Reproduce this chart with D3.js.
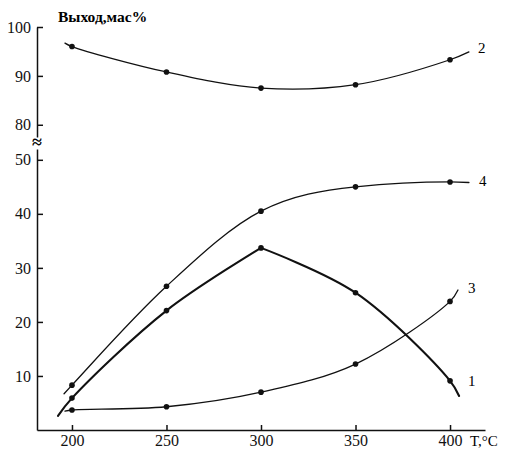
<!DOCTYPE html>
<html>
<head>
<meta charset="utf-8">
<script src="https://cdn.jsdelivr.net/npm/d3@7"></script>
<style>
  html, body { margin: 0; padding: 0; background: #fff; }
  svg { display: block; font-family: "Liberation Serif", "DejaVu Serif", serif; }
  .axis path, .axis line { stroke: #111; stroke-width: 1.5; }
  .axis text { font-size: 16px; fill: #111; font-family: "Liberation Serif", serif; }
</style>
</head>
<body>
<svg id="chart" width="509" height="449"></svg>
<script>
// Temperatures of the measured points, °C
const temps = [200, 250, 300, 350, 400];

// Yields, mass %, for curves 1–4
const yield1 = [5.9, 22.1, 33.7, 25.4, 9.1];
const yield2 = [96.0, 90.8, 87.5, 88.2, 93.3];
const yield3 = [3.7, 4.3, 7.0, 12.2, 23.8];
const yield4 = [8.3, 26.6, 40.5, 45.0, 45.9];

// Where each drawn curve begins and ends beyond the measured points: [T, yield]
const ends1 = [[192.6, 2.6], [404.8, 6.3]];
const ends2 = [[196.3, 96.7], [410.0, 94.9]];
const ends3 = [[196.3, 3.5], [404.2, 25.9]];
const ends4 = [[195.8, 6.7], [410.0, 45.8]];

// Ticks and labels
const xTicks = [200, 250, 300, 350, 400];
const lowTicks = [10, 20, 30, 40, 50];
const highTicks = [80, 90, 100];
const curveNames = ["1", "2", "3", "4"];

const svg = d3.select("#chart");

const x = d3.scaleLinear().domain([181.5, 418.5]).range([37, 485]);
const yLow = d3.scaleLinear().domain([0, 52]).range([430, 149]);
const yHigh = d3.scaleLinear().domain([77.5, 100]).range([137, 27]);

// Lower y-axis segment (0–52)
svg.append("g").attr("class", "axis").attr("transform", "translate(37,0)")
  .call(d3.axisLeft(yLow).tickValues(lowTicks).tickSizeInner(-6).tickSizeOuter(0).tickPadding(6));

// Upper y-axis segment (77.5–100) with a cap at 100
svg.append("g").attr("class", "axis").attr("transform", "translate(37,0)")
  .call(d3.axisLeft(yHigh).tickValues(highTicks).tickSizeInner(-6).tickSizeOuter(0).tickPadding(6));

// Break mark between the two segments
svg.append("text")
  .attr("x", 37).attr("y", 148)
  .attr("text-anchor", "middle")
  .style("font-size", "18px").style("font-weight", "bold")
  .text("≈");

// X axis
svg.append("g").attr("class", "axis").attr("transform", "translate(0,430)")
  .call(d3.axisBottom(x).tickValues(xTicks).tickSizeInner(-5).tickSizeOuter(0).tickPadding(5));

svg.append("text")
  .attr("x", 470).attr("y", 446)
  .style("font-size", "15px")
  .text("T,°C");

svg.append("text")
  .attr("x", 58).attr("y", 22)
  .style("font-size", "15.5px").style("font-weight", "bold")
  .text("Выход,мас%");

const smooth = d3.curveCatmullRom.alpha(0.5);

// Draws a smooth curve through the points; a curve may be split at a point
// (e.g. a sharp maximum) into separately smoothed pieces.
function drawCurve(vals, ends, yScale, width, curve, splitAt) {
  const pts = [ends[0], ...temps.map((t, i) => [t, vals[i]]), ends[1]];
  const pieces = splitAt == null ? [pts] : [pts.slice(0, splitAt + 2), pts.slice(splitAt + 1)];
  const line = d3.line()
    .x(d => x(d[0])).y(d => yScale(d[1]))
    .curve(curve);
  pieces.forEach(p => {
    svg.append("path").datum(p)
      .attr("d", line)
      .attr("fill", "none").attr("stroke", "#111").attr("stroke-width", width)
      .attr("stroke-linecap", "round");
  });
  svg.append("g").selectAll("circle").data(temps).join("circle")
    .attr("cx", t => x(t)).attr("cy", (t, i) => yScale(vals[i]))
    .attr("r", 2.8).attr("fill", "#111");
}

drawCurve(yield2, ends2, yHigh, 1.3, smooth);
drawCurve(yield4, ends4, yLow, 1.3, d3.curveMonotoneX);
drawCurve(yield1, ends1, yLow, 2.1, smooth, yield1.indexOf(d3.max(yield1)));
drawCurve(yield3, ends3, yLow, 1.3, smooth);

// Curve numbers at the right-hand ends
const labelPos = [[409.5, 9.1, yLow], [414.8, 95.7, yHigh], [409.5, 26.3, yLow], [415.3, 46.1, yLow]];
curveNames.forEach((n, i) => {
  const [t, v, s] = labelPos[i];
  svg.append("text")
    .attr("x", x(t)).attr("y", s(v) + 5)
    .style("font-size", "15px")
    .text(n);
});
</script>
</body>
</html>
